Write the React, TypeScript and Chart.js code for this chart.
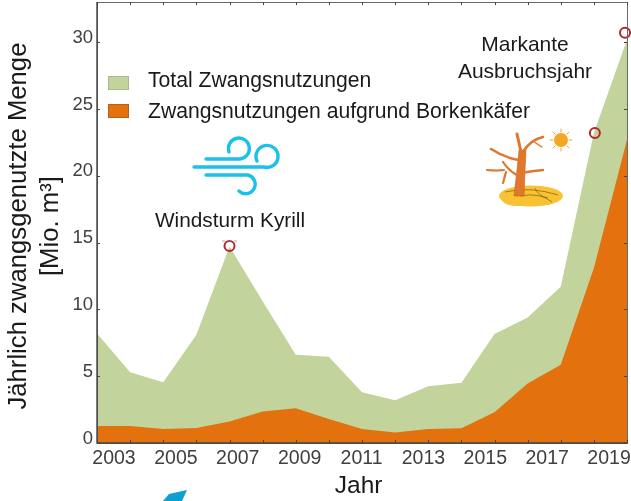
import React, { useEffect, useRef } from "react";
import { Chart, registerables } from "chart.js";

Chart.register(...registerables);

const years = [2003, 2004, 2005, 2006, 2007, 2008, 2009, 2010, 2011, 2012, 2013, 2014, 2015, 2016, 2017, 2018, 2019];
const totalValues = [8.2, 5.3, 4.55, 8.1, 14.7, 10.6, 6.6, 6.45, 3.8, 3.2, 4.25, 4.5, 8.15, 9.4, 11.7, 23.2, 30.2];
const barkBeetleValues = [1.27, 1.27, 1.05, 1.12, 1.6, 2.35, 2.6, 1.8, 1.05, 0.78, 1.05, 1.1, 2.3, 4.45, 5.85, 13.1, 22.7];
const markedYears = [2007, 2018.03, 2018.94];
const markedValues = [14.75, 23.2, 30.7];
const labelYears = [2003, 2005, 2007, 2009, 2011, 2013, 2015, 2017, 2019];
const yTickValues = [0, 5, 10, 15, 20, 25, 30];
const legendLabels = ["Total Zwangsnutzungen", "Zwangsnutzungen aufgrund Borkenkäfer"];

const FONT = "'Liberation Sans', Arial, sans-serif";
const GREEN = "#c2d49b";
const ORANGE = "#e2710e";

const framePlugin = {
  id: "frame",
  afterDatasetsDraw(chart: any) {
    const { ctx, chartArea: a, scales } = chart;
    ctx.save();
    ctx.strokeStyle = "#6a6a6a";
    ctx.lineWidth = 1;
    ctx.strokeRect(a.left + 0.5, a.top + 0.5, a.right - a.left, a.bottom - a.top);
    ctx.strokeStyle = "#444";
    ctx.lineWidth = 1.4;
    ctx.beginPath();
    ctx.moveTo(a.left, a.top);
    ctx.lineTo(a.left, a.bottom);
    ctx.lineTo(a.right, a.bottom);
    ctx.stroke();
    ctx.lineWidth = 1;
    ctx.beginPath();
    for (const y of years) {
      const px = Math.round(scales.x.getPixelForValue(y)) + 0.5;
      ctx.moveTo(px, a.top);
      ctx.lineTo(px, a.top + 3);
      ctx.moveTo(px, a.bottom);
      ctx.lineTo(px, a.bottom - 3);
    }
    for (const v of yTickValues) {
      const py = Math.round(scales.y.getPixelForValue(v)) + 0.5;
      ctx.moveTo(a.left, py);
      ctx.lineTo(a.left + 3, py);
      ctx.moveTo(a.right, py);
      ctx.lineTo(a.right - 3, py);
    }
    ctx.stroke();
    ctx.restore();
  },
};

const noPad = (s: any) => {
  s.getPadding = () => ({ left: 0, top: 0, right: 0, bottom: 0 });
};

const textStyle = (left: number, top: number, width: number, size: number): React.CSSProperties => ({
  position: "absolute",
  left,
  top,
  width,
  fontFamily: FONT,
  fontSize: size,
  lineHeight: "27px",
  color: "#1a1a1a",
  textAlign: "center",
  whiteSpace: "nowrap",
});

export default function App() {
  const ref = useRef<HTMLCanvasElement>(null);
  useEffect(() => {
    const chart = new Chart(ref.current!, {
      type: "line",
      data: {
        datasets: [
          {
            type: "scatter",
            label: "Markierte Jahre",
            data: markedYears.map((x, i) => ({ x, y: markedValues[i] })),
            borderColor: "#b5262e",
            backgroundColor: "rgba(255,255,255,0)",
            pointRadius: 5,
            pointBorderWidth: 2,
            showLine: false,
            clip: false,
            order: 0,
          },
          {
            label: legendLabels[1],
            data: years.map((x, i) => ({ x, y: barkBeetleValues[i] })),
            borderWidth: 0,
            pointRadius: 0,
            tension: 0,
            fill: "origin",
            backgroundColor: ORANGE,
            order: 1,
          },
          {
            label: legendLabels[0],
            data: years.map((x, i) => ({ x, y: totalValues[i] })),
            borderWidth: 0,
            pointRadius: 0,
            tension: 0,
            fill: "origin",
            backgroundColor: GREEN,
            order: 2,
          },
        ],
      } as any,
      options: {
        responsive: false,
        animation: false,
        layout: { autoPadding: false, padding: { top: 2, right: 4, left: 0, bottom: 0 } },
        plugins: { legend: { display: false }, tooltip: { enabled: false } },
        scales: {
          x: {
            type: "linear",
            position: "bottom",
            min: 2003,
            max: 2019,
            grid: { display: false },
            border: { display: false },
            ticks: { display: false },
            afterFit(s: any) {
              s.height = 0;
              noPad(s);
            },
          },
          xLabels: {
            type: "linear",
            position: "bottom",
            min: 2002.45,
            max: 2019.58,
            grid: { display: false, drawTicks: false },
            border: { display: false },
            afterBuildTicks(s: any) {
              s.ticks = labelYears.map((value) => ({ value }));
            },
            ticks: {
              autoSkip: false,
              maxRotation: 0,
              padding: 4,
              color: "#404040",
              font: { family: FONT, size: 19.5 },
              callback: (v: any) => String(v),
            },
            title: {
              display: true,
              text: "Jahr ",
              color: "#1a1a1a",
              font: { family: FONT, size: 24.5 },
              padding: { top: 11, bottom: 0 },
            },
            afterFit(s: any) {
              s.height = 58;
              noPad(s);
            },
          },
          y: {
            type: "linear",
            min: 0,
            max: 33,
            grid: { display: false, drawTicks: false },
            border: { display: false },
            afterBuildTicks(s: any) {
              s.ticks = yTickValues.map((value) => ({ value }));
            },
            ticks: {
              padding: 4,
              labelOffset: -4.5,
              color: "#404040",
              font: { family: FONT, size: 18.5 },
              callback: (v: any) => String(v),
            },
            title: {
              display: true,
              text: ["Jährlich zwangsgenutzte Menge ", "[Mio. m³] "],
              color: "#1a1a1a",
              font: { family: FONT, size: 25.7, lineHeight: 1.24 },
              padding: { top: 3, bottom: 0 },
            },
            afterFit(s: any) {
              s.width = 97;
              noPad(s);
            },
          },
        },
      } as any,
      plugins: [framePlugin],
    });
    return () => chart.destroy();
  }, []);

  return (
    <div style={{ position: "absolute", left: 0, top: 0, width: 631, height: 501, background: "#fff", overflow: "hidden" }}>
      <canvas ref={ref} width={631} height={501} style={{ display: "block" }} />

      {legendLabels.map((t, i) => (
        <React.Fragment key={t}>
          <div
            style={{
              position: "absolute",
              left: 108,
              top: 76 + i * 28,
              width: 21,
              height: 14,
              background: i === 0 ? GREEN : ORANGE,
              border: `1px solid ${i === 0 ? "#a9b98a" : "#b85f18"}`,
              boxSizing: "border-box",
            }}
          />
          <div style={{ ...textStyle(148, 66 + i * 31, 420, 21.15), textAlign: "left" }}>{t}</div>
        </React.Fragment>
      ))}

      <div style={textStyle(130, 206, 200, 20.8)}>Windsturm Kyrill</div>
      <div style={textStyle(425, 30, 200, 21)}>Markante</div>
      <div style={textStyle(425, 57, 200, 21)}>Ausbruchsjahr</div>

      <svg width={631} height={501} style={{ position: "absolute", left: 0, top: 0, pointerEvents: "none" }}>
        <g fill="none" stroke="#1cc0ea" strokeWidth={3.4} strokeLinecap="round">
          <path d="M206 159 H238 A10.5 10.5 0 1 0 229 152" />
          <path d="M194 167 H264 A11 11 0 1 0 257 161" />
          <path d="M206 175 H248 A9.5 9.5 0 1 1 239 191" />
        </g>
        <path d="M222 241 H237" stroke="#888" strokeWidth={0.7} strokeDasharray="3 3" />
        <ellipse cx={531} cy={196} rx={32} ry={10.5} fill="#f8c233" />
        <path d="M500 198 Q505 207 520 206 L540 204 L525 190 Z" fill="#f8c233" />
        <path d="M505 192 Q530 186 558 195 M520 196 Q540 192 552 202 M535 188 Q538 196 548 198" fill="none" stroke="#7b5a20" strokeWidth={0.7} />
        <path d="M514 196 L517 170 L519 150 L526 150 L525 170 L524 196 Z" fill="#e0772c" stroke="#c8611c" strokeWidth={0.6} />
        <g fill="none" stroke="#e0772c" strokeLinecap="round">
          <path d="M521 152 L517 134" strokeWidth={3} />
          <path d="M523 152 Q530 140 543 137" strokeWidth={2.6} />
          <path d="M533 141 Q537 144 542 147" strokeWidth={1.4} />
          <path d="M519 160 Q505 158 491 149" strokeWidth={2.6} />
          <path d="M518 176 Q508 170 503 162 M504 170 Q497 171 487 170 M506 172 L503 183" strokeWidth={2.2} />
          <path d="M521 173 Q532 171 543 170" strokeWidth={2.4} />
        </g>
        <circle cx={561} cy={140} r={7} fill="#f5a623" />
        <g stroke="#f5a623" strokeWidth={1} strokeLinecap="round">
          <path d="M550 140 H553 M569 140 H572 M561 129 V132 M561 148 V151 M553 132 L555 134 M567 146 L569 148 M553 148 L555 146 M567 134 L569 132" />
        </g>
        <path d="M163 501 L169 494 L187 490 L182 501 Z" fill="#0aa0d0" />
      </svg>
    </div>
  );
}
